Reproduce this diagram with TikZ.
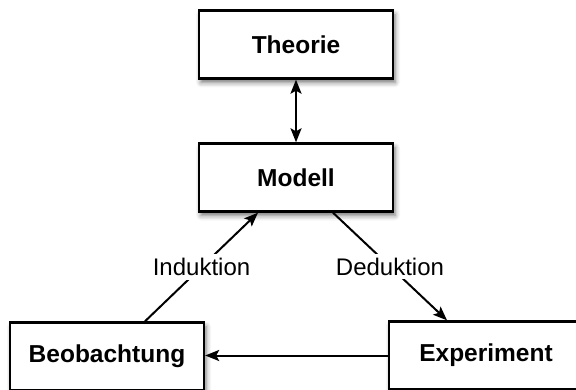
\documentclass[tikz,border=0pt]{standalone}
\usepackage{fontspec}
\setmainfont{Liberation Sans}
\usetikzlibrary{arrows.meta,shadows.blur}
\begin{document}
\begin{tikzpicture}[x=1pt,y=1pt,
  box/.style={draw=black, line width=2.4pt, fill=white, minimum width=194pt, minimum height=68pt,
    inner sep=0pt, font=\fontsize{24.5}{29}\selectfont\bfseries,
    blur shadow={shadow xshift=2pt, shadow yshift=-4pt, shadow blur radius=5pt, shadow opacity=55}},
  arr/.style={line width=2pt, -{Stealth[length=14pt,width=11pt,inset=3pt]}},
  lbl/.style={fill=white, inner sep=4pt, font=\fontsize{24}{28}\selectfont}]
\useasboundingbox (0,0) rectangle (576,-390);
\node[box] (theorie) at (296,-44.5) {Theorie};
\node[box] (modell) at (296,-177.5) {Modell};
\node[box] (beob) at (107,-356.5) {Beobachtung};
\node[box] (exp) at (486,-355.5) {Experiment};
% links between the boxes
\draw[line width=2pt, {Stealth[length=14pt,width=11pt,inset=3pt]}-{Stealth[length=14pt,width=11pt,inset=3pt]}]
  (theorie.south) -- (modell.north);
\draw[arr] ([xshift=38pt]beob.north) -- node[lbl] {Induktion} ([xshift=-38pt]modell.south);
\draw[arr] ([xshift=37pt]modell.south) -- node[lbl] {Deduktion} ([xshift=-39pt]exp.north);
\draw[arr] (exp.west) -- (beob.east |- exp.west);
\end{tikzpicture}
\end{document}
